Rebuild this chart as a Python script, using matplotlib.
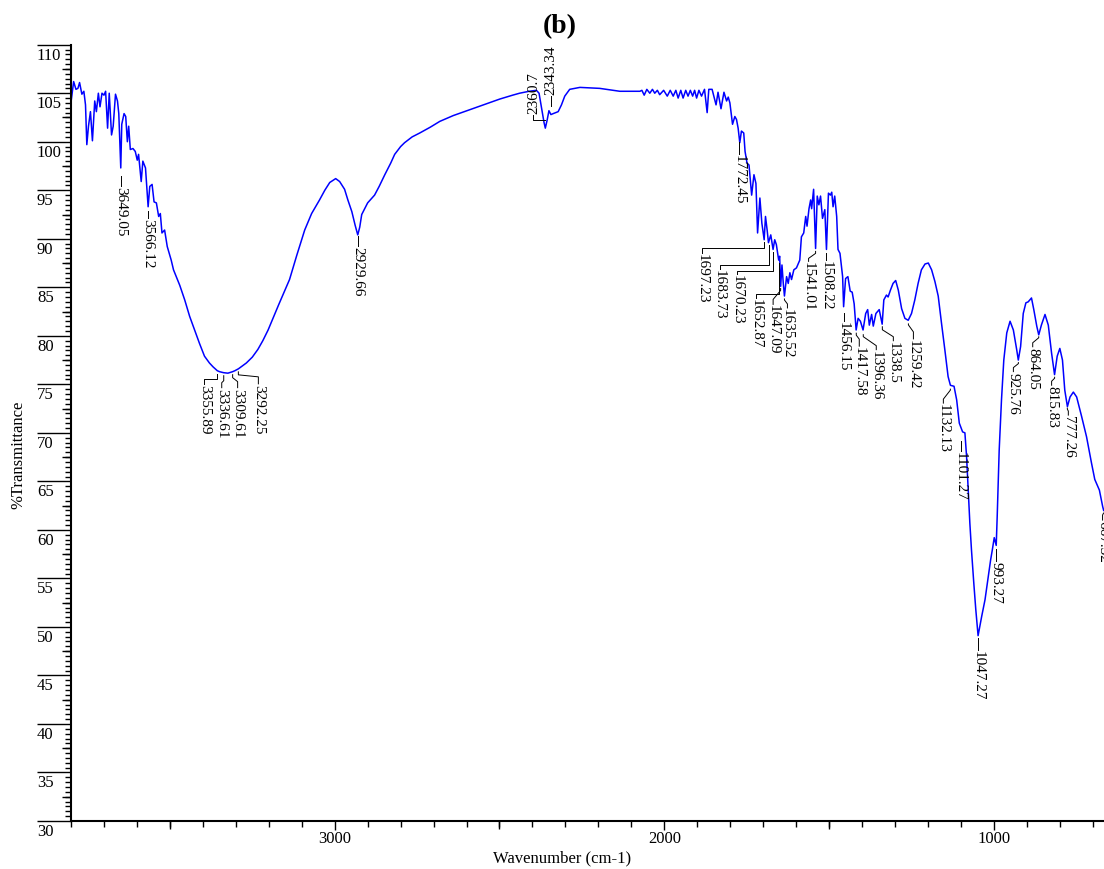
import numpy as np
import matplotlib
matplotlib.use('Agg')
import matplotlib.pyplot as plt
import matplotlib.lines as mlines
import matplotlib.transforms as mtransforms
from matplotlib.ticker import MultipleLocator

plt.rcParams['font.family'] = ['Liberation Serif', 'DejaVu Serif']

# FTIR spectrum: wavenumber (cm-1), %T
wavenumber = [
    3801, 3792, 3785, 3779, 3774, 3767, 3761, 3756, 3752, 3747, 3741, 3735, 3728, 3723,
    3717, 3712, 3706, 3700, 3695, 3689, 3684, 3677, 3672, 3665, 3659, 3655, 3649, 3646,
    3639, 3634, 3629, 3625, 3620, 3612, 3605, 3599, 3595, 3587, 3582, 3574, 3566, 3561,
    3554, 3548, 3541, 3534, 3529, 3524, 3516, 3508, 3501, 3496, 3489, 3470, 3455, 3440,
    3425, 3410, 3395, 3380, 3369, 3356, 3349, 3337, 3324, 3310, 3303, 3292, 3280, 3268,
    3250, 3233, 3218, 3202, 3170, 3137, 3115, 3091, 3070, 3046, 3030, 3015, 2997, 2985,
    2970, 2960, 2948, 2938, 2930, 2924, 2918, 2900, 2879, 2865, 2848, 2830, 2818, 2800,
    2788, 2765, 2742, 2710, 2681, 2640, 2590, 2540, 2499, 2460, 2439, 2410, 2388, 2380,
    2373, 2365, 2361, 2355, 2350, 2344, 2337, 2322, 2312, 2302, 2287, 2256, 2196, 2135,
    2074, 2068, 2061, 2053, 2044, 2036, 2029, 2021, 2014, 2002, 1991, 1982, 1973, 1965,
    1958, 1950, 1943, 1935, 1928, 1921, 1914, 1908, 1902, 1895, 1887, 1878, 1870, 1865,
    1855, 1843, 1837, 1828, 1819, 1811, 1806, 1801, 1793, 1786, 1781, 1776, 1771, 1766,
    1759, 1755, 1749, 1743, 1735, 1728, 1722, 1717, 1710, 1704, 1697, 1693, 1688, 1684,
    1677, 1670, 1665, 1660, 1653, 1650, 1647, 1643, 1639, 1635.5, 1629, 1624, 1619, 1614,
    1607, 1599, 1589, 1584, 1577, 1571, 1567, 1561, 1556, 1553, 1547, 1541, 1536, 1531,
    1526, 1520, 1513, 1508, 1502, 1496, 1492, 1488, 1483, 1477, 1473, 1467, 1459, 1456,
    1450, 1443, 1436, 1430, 1424, 1418, 1412, 1405, 1397, 1389, 1383, 1378, 1371, 1366,
    1358, 1348, 1339, 1334, 1326, 1321, 1314, 1306, 1298, 1290, 1280, 1270, 1260, 1250,
    1240, 1230, 1220, 1209, 1199, 1189, 1179, 1169, 1159, 1149, 1139, 1132, 1121, 1113,
    1105, 1095, 1088, 1083, 1078, 1073, 1068, 1061, 1055, 1048, 1037, 1027, 1017, 1010,
    1005, 999, 993, 990, 984, 977, 970, 961, 951, 941, 931, 926, 919, 911,
    903, 896, 886, 879, 870, 864, 856, 845, 835, 825, 816, 808, 800, 792,
    785, 777, 769, 759, 749, 734, 719, 704, 694, 680, 670, 667,
]
transmittance = [
    103.8, 106.2, 105.4, 105.5, 106.1, 104.9, 105.2, 103.8, 99.7, 101.6, 103.1, 100.1, 104.2, 103.1,
    105.0, 103.6, 105.0, 104.8, 105.2, 101.4, 105.0, 100.7, 101.6, 104.9, 104.2, 102.9, 97.3, 101.8,
    102.9, 102.6, 100.0, 101.6, 99.2, 99.3, 99.0, 98.1, 98.7, 95.9, 98.0, 97.3, 93.3, 95.4,
    95.6, 93.8, 93.7, 92.3, 92.6, 90.6, 90.9, 89.2, 88.4, 87.8, 86.8, 85.2, 83.7, 82.0,
    80.6, 79.2, 77.9, 77.2, 76.8, 76.4, 76.3, 76.2, 76.15, 76.3, 76.4, 76.6, 76.9, 77.2,
    77.8, 78.6, 79.5, 80.6, 83.2, 85.8, 88.3, 90.9, 92.6, 94.0, 95.0, 95.8, 96.2, 95.9,
    95.1, 94.0, 92.8, 91.4, 90.4, 91.2, 92.5, 93.7, 94.5, 95.4, 96.6, 97.8, 98.7, 99.5,
    99.9, 100.5, 100.9, 101.5, 102.1, 102.7, 103.3, 103.9, 104.4, 104.8, 105.0, 105.2, 105.3, 105.0,
    103.6, 102.0, 101.4, 102.3, 103.2, 102.8, 102.9, 103.1, 103.8, 104.7, 105.4, 105.6, 105.5, 105.2,
    105.2, 105.3, 104.8, 105.4, 105.0, 105.4, 105.0, 105.3, 104.85, 105.3, 104.7, 105.3, 104.7, 105.3,
    104.5, 105.3, 104.5, 105.3, 104.7, 105.3, 104.7, 105.3, 104.5, 105.3, 104.7, 105.4, 103.0, 105.4,
    105.4, 103.8, 105.1, 103.4, 105.1, 104.2, 104.6, 104.0, 101.8, 102.6, 102.3, 101.4, 99.9, 101.1,
    100.9, 99.0, 97.8, 97.6, 94.5, 96.6, 95.7, 90.6, 94.2, 91.6, 89.9, 92.3, 90.9, 89.6,
    90.4, 88.9, 89.9, 89.4, 87.8, 88.2, 85.1, 87.3, 85.4, 84.1, 86.1, 85.4, 86.5, 85.8,
    86.8, 87.0, 87.8, 90.2, 90.6, 92.3, 91.3, 93.1, 94.0, 93.1, 95.1, 89.0, 94.4, 93.5,
    94.4, 92.1, 93.0, 88.9, 94.7, 94.5, 94.8, 93.3, 94.4, 92.3, 88.9, 88.5, 86.1, 83.0,
    85.9, 86.1, 84.6, 84.5, 83.3, 80.6, 81.8, 81.5, 80.6, 82.3, 82.7, 81.1, 82.2, 81.0,
    82.3, 82.7, 81.2, 83.7, 84.2, 84.0, 84.7, 85.4, 85.7, 84.7, 82.8, 81.8, 81.6, 82.3,
    83.7, 85.4, 86.8, 87.4, 87.5, 86.8, 85.6, 84.1, 81.3, 78.6, 75.8, 74.9, 74.8, 73.4,
    71.0, 70.1, 70.0, 67.6, 64.1, 60.7, 57.9, 54.5, 51.8, 49.1, 51.1, 52.8, 55.2, 56.9,
    57.9, 59.2, 58.4, 61.4, 68.2, 73.4, 77.5, 80.3, 81.5, 80.6, 78.6, 77.5, 78.9, 82.3,
    83.4, 83.5, 83.9, 82.7, 81.0, 80.1, 81.1, 82.2, 81.1, 78.2, 76.0, 77.9, 78.7, 77.5,
    74.4, 72.7, 73.7, 74.2, 73.7, 71.7, 69.6, 66.9, 65.2, 64.1, 62.4, 62.0,
]

peak_wn = [3649.05, 3566.12, 3355.89, 3336.61, 3309.61, 3292.25, 2929.66, 2360.7, 2343.34,
           1772.45, 1697.23, 1683.73, 1670.23, 1652.87, 1647.09, 1635.52, 1541.01, 1508.22,
           1456.15, 1417.58, 1396.36, 1338.5, 1259.42, 1132.13, 1101.27, 1047.27, 993.27,
           925.76, 864.05, 815.83, 777.26, 667.32]
peak_text = ['3649.05', '3566.12', '3355.89', '3336.61', '3309.61', '3292.25', '2929.66', '2360.7',
             '2343.34', '1772.45', '1697.23', '1683.73', '1670.23', '1652.87', '1647.09', '1635.52',
             '1541.01', '1508.22', '1456.15', '1417.58', '1396.36', '1338.5', '1259.42', '1132.13',
             '1101.27', '1047.27', '993.27', '925.76', '864.05', '815.83', '777.26', '667.32']

# leader geometry in pixels (dx, a, b, c, d): down from the peak, y grows downward
leader = [(0, 9, 9, 9, 19), (0, 5, 5, 5, 12), (-13, 3, 8, 8, 13), (-2, 3, 8, 10, 15),
          (5, 3, 6, 10, 16), (20, 3, 6, 8, 15), (0, 2, 2, 2, 12), (-12, -8, -8, -8, -13),
          (0, -8, -8, -8, -18), (0, 4, 4, 4, 16), (-62, 3, 9, 9, 14), (-49, 3, 23, 23, 27),
          (-36, 3, 22, 22, 25), (-23, 3, 34, 34, 38), (-7.5, 3, 5, 14, 19), (3, 3, 4, 8, 12),
          (-7, 3, 5, 10, 13), (0, 5, 5, 5, 12), (0, 8, 8, 8, 16), (3, 4, 6, 10, 17),
          (13, 6, 8, 17, 21), (11, 5, 8, 15, 19), (5, 4, 5, 12, 19), (-7, 4, 5, 14, 18),
          (0, 15, 15, 15, 25), (0, 4, 4, 4, 16), (0, 4, 4, 4, 16), (-5, 3, 4, 8, 12),
          (-6, 2, 3, 8, 12), (-3, 3, 4, 7, 11), (1, 2, 3, 5, 9), (-1, 3, 3, 5, 10)]

W, H = 1104, 869
fig = plt.figure(figsize=(W / 100, H / 100), dpi=100)
ax = fig.add_axes([71 / W, 1 - 821 / H, 1 - 71 / W, (821 - 44.7) / H])

ax.plot(wavenumber, transmittance, color='#0000ff', lw=1.1)
ax.set_xlim(3800, 666)
ax.set_ylim(30, 110)

for s in ['top', 'right']:
    ax.spines[s].set_visible(False)
for s in ['left', 'bottom']:
    ax.spines[s].set_linewidth(1.5)

ax.xaxis.set_major_locator(MultipleLocator(1000))
ax.xaxis.set_minor_locator(MultipleLocator(100))
ax.set_yticks(np.arange(30, 111, 5))
ax.yaxis.set_minor_locator(MultipleLocator(0.5))
ax.tick_params(axis='x', which='major', length=6.5, width=1.0, pad=1, labelsize=12)
ax.tick_params(axis='x', which='minor', length=4, width=1.0)
ax.tick_params(axis='y', which='major', length=24.5, width=1.0, pad=0, labelsize=12)
ax.tick_params(axis='y', which='minor', length=4.1, width=1.0)

off = mtransforms.ScaledTranslation(0, -3 / 100, fig.dpi_scale_trans)
for lab in ax.get_yticklabels():
    lab.set_horizontalalignment('left')
    lab.set_verticalalignment('top')
    lab.set_transform(lab.get_transform() + off)

# medium ticks
tx = mtransforms.blended_transform_factory(ax.transData, ax.transAxes)
mid_x = [3500, 2500, 1500]
ax.plot(mid_x, [0] * len(mid_x), transform=tx, ls='none', marker=mlines.TICKDOWN,
        ms=5.8, mew=1.0, color='k', clip_on=False)
ty = mtransforms.blended_transform_factory(ax.transAxes, ax.transData)
mid_y = np.arange(32.5, 110, 5)
ax.plot([0] * len(mid_y), mid_y, transform=ty, ls='none', marker=mlines.TICKLEFT,
        ms=6.5, mew=1.0, color='k', clip_on=False)

# peak labels
wn_inc = np.array(wavenumber)[::-1]
t_inc = np.array(transmittance)[::-1]
inv = ax.transData.inverted()
for w0, txt, (dx, a, b, c, d) in zip(peak_wn, peak_text, leader):
    t0 = np.interp(w0, wn_inc, t_inc)
    x0, y0 = ax.transData.transform((w0, t0))
    pts = np.array([(x0, y0 - a), (x0, y0 - b), (x0 + dx, y0 - c), (x0 + dx, y0 - d)])
    dp = inv.transform(pts)
    ax.plot(dp[:, 0], dp[:, 1], color='k', lw=0.7, clip_on=False)
    if d > 0:
        tp = inv.transform((x0 + dx, y0 - d - 1))
        ax.text(tp[0], tp[1], txt, rotation=-90, ha='center', va='top', fontsize=11)
    else:
        tp = inv.transform((x0 + dx, y0 - d + 1))
        ax.text(tp[0], tp[1], txt, rotation=90, ha='center', va='bottom', fontsize=11)

fig.text(560 / W, 1 - 27 / H, '(b)', ha='center', va='center', fontsize=20, fontweight='bold')
fig.text(562 / W, 1 - 858 / H, 'Wavenumber (cm-1)', ha='center', va='center', fontsize=12)
fig.text(18 / W, 1 - 455 / H, '%Transmittance', rotation=90, ha='center', va='center', fontsize=12)

fig.savefig('out.png', dpi=100)
